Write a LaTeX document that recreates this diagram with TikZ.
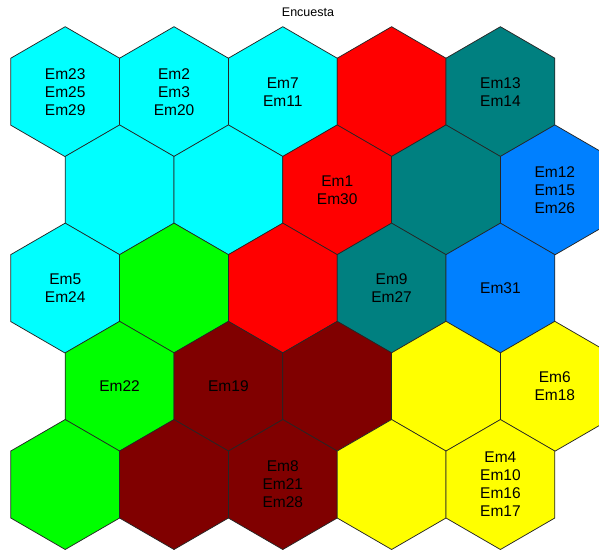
\documentclass[tikz,border=0pt]{standalone}
\usepackage{fontspec}
\setmainfont{Liberation Sans}
\definecolor{cyanc}{HTML}{00FFFF}
\definecolor{redc}{HTML}{FF0000}
\definecolor{tealc}{HTML}{008080}
\definecolor{bluec}{HTML}{0080FF}
\definecolor{greenc}{HTML}{00FF00}
\definecolor{maroonc}{HTML}{800000}
\definecolor{yellowc}{HTML}{FFFF00}
\tikzset{
  hexcell/.style={draw=black!85, line width=0.75pt, line join=miter},
  lbl/.style={font=\fontsize{15.5}{18}\selectfont, align=center, text=black, inner sep=0pt},
  ttl/.style={font=\fontsize{12.5}{14}\selectfont, text=black, inner sep=0pt}
}
\begin{document}
\begin{tikzpicture}[x=1pt,y=-1pt]
\useasboundingbox (0,0) rectangle (599,551);
\clip (0,0) rectangle (599,551);
\node[ttl] (title) at (308,12.5) {Encuesta};
\foreach \r/\c/\col/\txt in {
  0/0/cyanc/{Em23\\Em25\\Em29}, 0/1/cyanc/{Em2\\Em3\\Em20}, 0/2/cyanc/{Em7\\Em11}, 0/3/redc/{}, 0/4/tealc/{Em13\\Em14},
  1/0/cyanc/{}, 1/1/cyanc/{}, 1/2/redc/{Em1\\Em30}, 1/3/tealc/{}, 1/4/bluec/{Em12\\Em15\\Em26},
  2/0/cyanc/{Em5\\Em24}, 2/1/greenc/{}, 2/2/redc/{}, 2/3/tealc/{Em9\\Em27}, 2/4/bluec/{Em31},
  3/0/greenc/{Em22}, 3/1/maroonc/{Em19}, 3/2/maroonc/{}, 3/3/yellowc/{}, 3/4/yellowc/{Em6\\Em18},
  4/0/greenc/{}, 4/1/maroonc/{}, 4/2/maroonc/{Em8\\Em21\\Em28}, 4/3/yellowc/{}, 4/4/yellowc/{Em4\\Em10\\Em16\\Em17}}
{
  \pgfmathsetmacro\cx{65.2+108.8*\c+54.4*mod(\r,2)}
  \pgfmathsetmacro\cy{91.7+98.2*\r}
  \filldraw[hexcell, fill=\col] (\cx,\cy-65) -- (\cx+54.4,\cy-33.5) -- (\cx+54.4,\cy+33.5)
    -- (\cx,\cy+65) -- (\cx-54.4,\cy+33.5) -- (\cx-54.4,\cy-33.5) -- cycle;
  \node[lbl] (h\r\c) at (\cx,\cy) {\txt};
}
\end{tikzpicture}
\end{document}
